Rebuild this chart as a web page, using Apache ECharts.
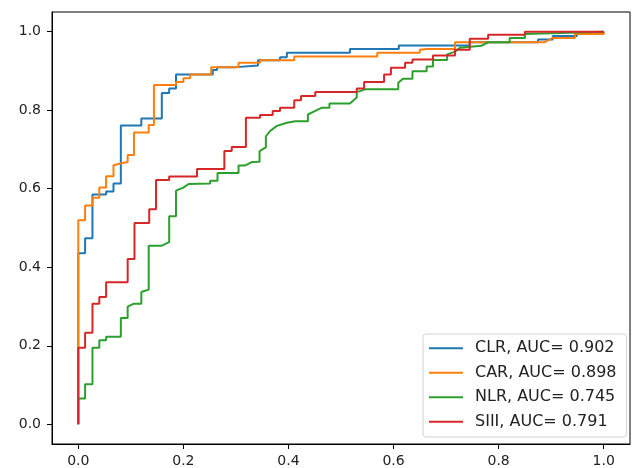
<!DOCTYPE html>
<html>
<head>
<meta charset="utf-8">
<script src="https://cdn.jsdelivr.net/npm/echarts@6/dist/echarts.min.js"></script>
<style>
html,body{margin:0;padding:0;background:#fff;}
#chart{width:634px;height:468px;}
</style>
</head>
<body>
<div id="chart"></div>
<script>
// Tick labels
var tickValues = [0, 0.2, 0.4, 0.6, 0.8, 1.0];

// Series names and legend labels
var seriesNames = ['CLR, AUC= 0.902', 'CAR, AUC= 0.898', 'NLR, AUC= 0.745', 'SIII, AUC= 0.791'];

// ROC curves: [false positive rate, true positive rate]
var clrROC = [[0,0],[0,0.436],[0.013,0.436],[0.013,0.474],[0.027,0.474],[0.027,0.585],[0.053,0.585],[0.053,0.593],[0.067,0.593],[0.067,0.613],[0.081,0.613],[0.081,0.761],[0.120,0.761],[0.120,0.779],[0.159,0.779],[0.159,0.844],[0.173,0.844],[0.173,0.855],[0.186,0.855],[0.186,0.891],[0.256,0.891],[0.256,0.902],[0.264,0.902],[0.264,0.909],[0.295,0.909],[0.295,0.914],[0.342,0.914],[0.342,0.927],[0.384,0.927],[0.384,0.935],[0.397,0.935],[0.397,0.946],[0.517,0.946],[0.517,0.956],[0.610,0.956],[0.610,0.965],[0.745,0.965],[0.745,0.973],[0.875,0.973],[0.875,0.980],[0.903,0.980],[0.903,0.989],[0.949,0.989],[0.949,0.996],[1,0.996],[1,1]];

var carROC = [[0,0],[0,0.520],[0.013,0.520],[0.013,0.557],[0.027,0.557],[0.027,0.577],[0.040,0.577],[0.040,0.603],[0.053,0.603],[0.053,0.632],[0.067,0.632],[0.067,0.660],[0.080,0.664],[0.094,0.668],[0.094,0.686],[0.106,0.686],[0.106,0.743],[0.134,0.743],[0.134,0.762],[0.144,0.762],[0.144,0.864],[0.186,0.864],[0.186,0.872],[0.200,0.872],[0.200,0.881],[0.213,0.881],[0.213,0.891],[0.253,0.891],[0.253,0.909],[0.305,0.909],[0.305,0.921],[0.346,0.921],[0.346,0.927],[0.411,0.927],[0.411,0.937],[0.569,0.937],[0.569,0.946],[0.650,0.946],[0.650,0.954],[0.663,0.956],[0.717,0.956],[0.717,0.973],[0.888,0.973],[0.903,0.984],[0.945,0.984],[0.945,0.994],[1,0.994],[1,1]];

var nlrROC = [[0,0],[0,0.066],[0.013,0.066],[0.013,0.102],[0.027,0.102],[0.027,0.195],[0.040,0.195],[0.040,0.214],[0.053,0.214],[0.053,0.223],[0.081,0.223],[0.081,0.271],[0.094,0.271],[0.094,0.300],[0.105,0.307],[0.120,0.307],[0.120,0.337],[0.134,0.343],[0.134,0.455],[0.159,0.455],[0.173,0.464],[0.173,0.530],[0.186,0.530],[0.186,0.595],[0.200,0.603],[0.210,0.612],[0.251,0.613],[0.251,0.620],[0.265,0.620],[0.265,0.640],[0.305,0.640],[0.305,0.659],[0.317,0.659],[0.330,0.668],[0.345,0.669],[0.345,0.696],[0.357,0.705],[0.357,0.733],[0.365,0.747],[0.378,0.760],[0.397,0.768],[0.413,0.772],[0.437,0.772],[0.437,0.789],[0.451,0.798],[0.463,0.806],[0.478,0.806],[0.478,0.817],[0.517,0.817],[0.530,0.832],[0.530,0.846],[0.546,0.853],[0.609,0.853],[0.609,0.870],[0.618,0.880],[0.636,0.880],[0.636,0.899],[0.663,0.899],[0.663,0.911],[0.675,0.911],[0.675,0.928],[0.702,0.928],[0.702,0.942],[0.717,0.949],[0.726,0.959],[0.726,0.964],[0.767,0.964],[0.780,0.973],[0.821,0.973],[0.821,0.984],[0.850,0.984],[0.850,0.994],[0.935,0.997],[0.935,1.0],[1,1]];

var siiiROC = [[0,0],[0,0.195],[0.013,0.195],[0.013,0.233],[0.027,0.233],[0.027,0.307],[0.040,0.307],[0.040,0.324],[0.053,0.324],[0.053,0.362],[0.094,0.362],[0.094,0.421],[0.107,0.421],[0.107,0.513],[0.135,0.513],[0.135,0.548],[0.148,0.548],[0.148,0.622],[0.173,0.622],[0.173,0.631],[0.226,0.631],[0.226,0.650],[0.278,0.650],[0.278,0.696],[0.292,0.696],[0.292,0.706],[0.319,0.706],[0.319,0.781],[0.346,0.781],[0.346,0.788],[0.370,0.788],[0.370,0.798],[0.384,0.798],[0.384,0.806],[0.411,0.806],[0.411,0.825],[0.424,0.825],[0.424,0.836],[0.451,0.836],[0.451,0.846],[0.530,0.846],[0.530,0.855],[0.544,0.855],[0.544,0.872],[0.582,0.872],[0.582,0.891],[0.595,0.891],[0.595,0.908],[0.622,0.908],[0.622,0.921],[0.636,0.921],[0.636,0.929],[0.675,0.929],[0.675,0.939],[0.717,0.939],[0.717,0.954],[0.745,0.954],[0.745,0.982],[0.780,0.982],[0.780,0.992],[0.850,0.992],[0.850,1.0],[1,1]];

var curves = [clrROC, carROC, nlrROC, siiiROC];
var colors = ['#1f77b4', '#ff7f0e', '#2ca02c', '#d62728'];

var chart = echarts.init(document.getElementById('chart'), null, {renderer: 'canvas'});
var fontFam = '"DejaVu Sans", sans-serif';

function axisCommon() {
  return {
    type: 'value',
    min: -0.05,
    max: 1.05,
    splitLine: {show: false},
    axisLine: {show: true, onZero: false, lineStyle: {color: '#000', width: 1}},
    axisTick: {show: true, inside: false, length: 5, customValues: tickValues, lineStyle: {color: '#000', width: 1}},
    axisLabel: {
      customValues: tickValues,
      color: '#222',
      fontFamily: fontFam,
      fontSize: 14,
      formatter: function (v) { return Number(v).toFixed(1); }
    }
  };
}

var xAx = axisCommon();
xAx.axisLabel.margin = 10;
var yAx = axisCommon();
yAx.axisLabel.margin = 11;

var series = curves.map(function (c, i) {
  return {
    name: seriesNames[i],
    type: 'line',
    data: c,
    showSymbol: false,
    symbol: 'none',
    smooth: false,
    lineStyle: {color: colors[i], width: 2},
    itemStyle: {color: colors[i]},
    animation: false,
    z: 2 + i
  };
});

chart.setOption({
  animation: false,
  backgroundColor: '#fff',
  grid: {
    left: 52, right: 4, top: 12, bottom: 22,
    show: true, borderColor: '#000', borderWidth: 1, backgroundColor: 'transparent'
  },
  xAxis: xAx,
  yAxis: yAx,
  legend: {
    data: seriesNames,
    orient: 'vertical',
    left: 423,
    top: 334,
    padding: [4, 10, 5, 6],
    itemGap: 4,
    itemWidth: 34,
    itemHeight: 2,
    icon: 'rect',
    backgroundColor: 'rgba(255,255,255,0.8)',
    borderColor: '#d3d3d3',
    borderWidth: 1,
    borderRadius: 3,
    textStyle: {
      color: '#222',
      fontFamily: fontFam,
      fontSize: 16,
      lineHeight: 20.5,
      padding: [0, 0, 0, 7]
    }
  },
  series: series
});
</script>
</body>
</html>
